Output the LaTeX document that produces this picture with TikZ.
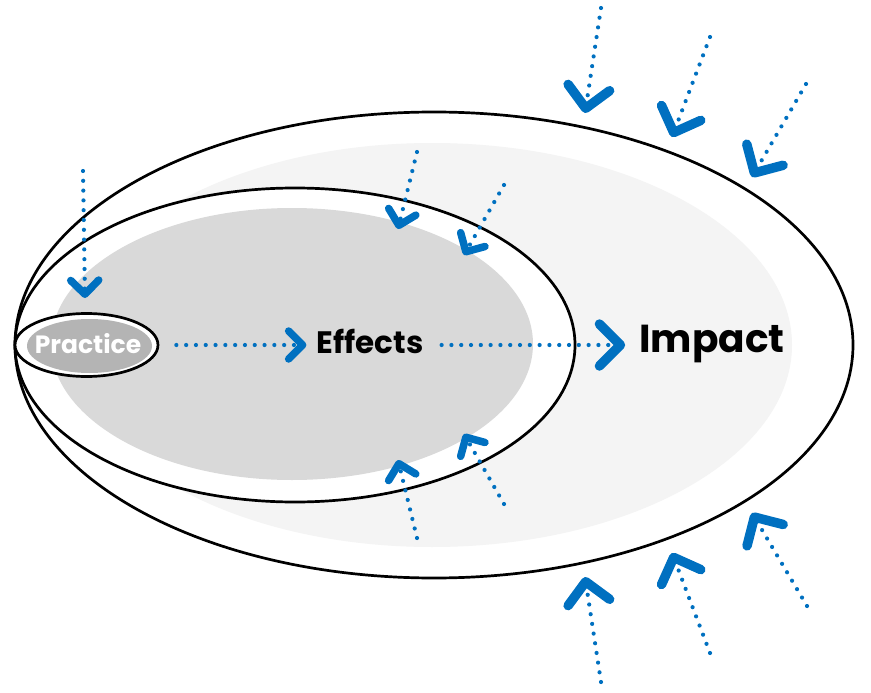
\documentclass[tikz,border=0pt]{standalone}
\usepackage{fontspec}
\setmainfont{Poppins}
\usetikzlibrary{arrows.meta,shapes.geometric}
\definecolor{arrowblue}{RGB}{0,112,192}
\definecolor{lightfill}{RGB}{244,244,244}
\definecolor{midfill}{RGB}{217,217,217}
\definecolor{darkfill}{RGB}{180,180,180}
\tikzset{
  ring/.style={ellipse,draw=black,line width=2.7pt,fill=white,inner sep=0pt},
  blob/.style={ellipse,inner sep=0pt},
  wordtext/.style={inner sep=0pt,font=\bfseries},
  dotline/.style={draw=arrowblue,line width=4.2pt,line cap=round,dash pattern=on 0pt off 9.8pt},
  bigchev/.tip={Straight Barb[length=21pt,width=42pt,line width=9.5pt,round]},
  smallchev/.tip={Straight Barb[length=14pt,width=28pt,line width=7.5pt,round]}
}

\begin{document}
\begin{tikzpicture}[x=1pt,y=-1pt]
    \useasboundingbox (0,0) rectangle (871,693);

    % nodes
    \node at (434,345) [ring,minimum width=838pt,minimum height=466pt] (outer) {};
    \node at (432,345) [blob,fill=lightfill,minimum width=720pt,minimum height=404pt] (impactzone) {};
    \node at (295,345) [ring,minimum width=560pt,minimum height=314pt] (middle) {};
    \node at (292,344) [blob,fill=midfill,minimum width=482pt,minimum height=272pt] (effectzone) {};
    \node at (86.5,345) [ring,minimum width=143pt,minimum height=63pt] (practicering) {};
    \node at (89.5,346) [blob,fill=darkfill,minimum width=125pt,minimum height=54pt] (practicezone) {};
    \node at (88,353) [wordtext,anchor=base,text=white,font=\bfseries\fontsize{25}{25}\selectfont] (practice) {Practice};
    \node at (370,353) [wordtext,anchor=base,font=\bfseries\fontsize{31}{31}\selectfont] (effects) {Effects};
    \node at (712,352) [wordtext,anchor=base,font=\bfseries\fontsize{39}{39}\selectfont] (impact) {Impact};

    % free ends
    \coordinate (p0) at (83,171);  \coordinate (p1) at (85,298);
    \coordinate (t0) at (601,8);   \coordinate (t1) at (585,113);
    \coordinate (u0) at (710,37);  \coordinate (u1) at (672,137);
    \coordinate (v0) at (806,84);  \coordinate (v1) at (752,177);
    \coordinate (b0) at (601,682); \coordinate (b1) at (585,577);
    \coordinate (c0) at (710,653); \coordinate (c1) at (672,553);
    \coordinate (d0) at (807,606); \coordinate (d1) at (752,513);
    \coordinate (i0) at (417,152); \coordinate (i1) at (398,229);
    \coordinate (j0) at (504,185); \coordinate (j1) at (464,255);
    \coordinate (k0) at (417,538); \coordinate (k1) at (398,460);
    \coordinate (l0) at (504,504); \coordinate (l1) at (464,434);

    % paths
    \draw[dotline,-{smallchev}] (p0) -- (p1); % into practice
    \draw[dotline,-{smallchev},shorten <=17pt,shorten >=10pt] (practicering.east) -- (practicering.east -| effects.west); % practice -> effects
    \draw[dotline,-{bigchev},shorten <=18pt,shorten >=14pt] (effects.east |- practicering.east) -- (impact.west |- practicering.east); % effects -> impact
    \draw[dotline,-{smallchev}] (i0) -- (i1); % inner, top
    \draw[dotline,-{smallchev}] (j0) -- (j1);
    \draw[dotline,-{smallchev}] (k0) -- (k1); % inner, bottom
    \draw[dotline,-{smallchev}] (l0) -- (l1);
    \draw[dotline,-{bigchev}] (t0) -- (t1); % outer, top
    \draw[dotline,-{bigchev}] (u0) -- (u1);
    \draw[dotline,-{bigchev}] (v0) -- (v1);
    \draw[dotline,-{bigchev}] (b0) -- (b1); % outer, bottom
    \draw[dotline,-{bigchev}] (c0) -- (c1);
    \draw[dotline,-{bigchev}] (d0) -- (d1);

\end{tikzpicture}
\end{document}
